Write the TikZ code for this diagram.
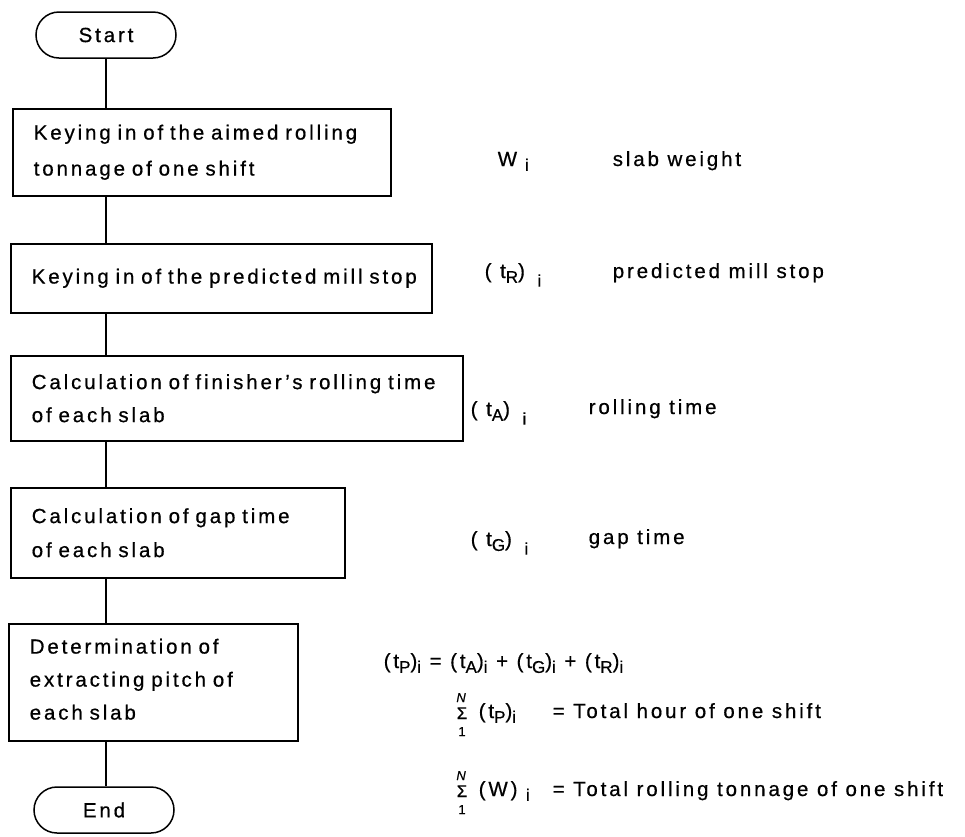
\documentclass[tikz,border=0pt]{standalone}
\usepackage{fontspec}
\setmainfont{Liberation Sans}[LetterSpace=14,FakeBold=0.6]
\usetikzlibrary{shapes.misc}
\newcommand{\dn}[1]{\raisebox{-0.45ex}{\fontsize{17}{17}\selectfont #1}}
\newcommand{\dnn}[1]{\raisebox{-0.8ex}{\fontsize{17}{17}\selectfont #1}}
\begin{document}
\begin{tikzpicture}[x=1pt,y=-1pt,line width=1.5pt,
  font=\fontsize{20.5}{36}\selectfont,
  procbox/.style={draw, rectangle, anchor=north west, align=left, inner xsep=21pt, inner ysep=0pt},
  term/.style={draw, rounded rectangle, minimum width=140pt, minimum height=46pt, inner sep=0pt},
  lbl/.style={anchor=base west, inner sep=0pt},
  limit/.style={anchor=base, inner sep=0pt, font=\fontsize{13}{13}\selectfont},
  sigma/.style={anchor=base, inner sep=0pt, font=\fontsize{17}{17}\selectfont}]
\useasboundingbox (0,0) rectangle (965,836);

\node[term] (start) at (106,35) {Start};
\node[procbox, text width=336pt, minimum height=87pt] (b1) at (12,108)
  {\mbox{Keying in of the aimed rolling}\\\mbox{tonnage of one shift}};
\node[procbox, text width=379pt, minimum height=69pt] (b2) at (10,243)
  {\mbox{Keying in of the predicted mill stop}};
\node[procbox, text width=410pt, minimum height=85pt, font=\fontsize{20.5}{33}\selectfont] (b3) at (10,355)
  {\mbox{Calculation of finisher's rolling time}\\\mbox{of each slab}};
\node[procbox, text width=292pt, minimum height=90pt, font=\fontsize{20.5}{34}\selectfont] (b4) at (10,487)
  {\mbox{Calculation of gap time}\\\mbox{of each slab}};
\node[procbox, text width=247pt, minimum height=117pt, font=\fontsize{20.5}{33}\selectfont] (b5) at (8,623)
  {\mbox{Determination of}\\\mbox{extracting pitch of}\\\mbox{each slab}\vspace{6pt}};
\node[term] (end) at (104,810) {End};

\draw (start.south) -- (start.south |- b1.north);
\draw (start.south |- b1.south) -- (start.south |- b2.north);
\draw (start.south |- b2.south) -- (start.south |- b3.north);
\draw (start.south |- b3.south) -- (start.south |- b4.north);
\draw (start.south |- b4.south) -- (start.south |- b5.north);
\draw (start.south |- b5.south) -- (start.south |- end.north);

\node[lbl] (wsym) at (497,166) {W\hspace{8pt}\dn{i}};
\node[lbl] (wtxt) at (612,166) {slab weight};
\node[lbl] (rsym) at (484,278) {( t\dn{R}) \hspace{4pt}\dnn{i}};
\node[lbl] (rtxt) at (612,278) {predicted mill stop};
\node[lbl] (asym) at (470,416) {( t\dn{A}) \hspace{4pt}\dnn{i}};
\node[lbl] (atxt) at (588,414) {rolling time};
\node[lbl] (gsym) at (470,546) {( t\dn{G}) \hspace{4pt}\dnn{i}};
\node[lbl] (gtxt) at (588,544) {gap time};

\node[lbl] (form) at (383,668) {(t\dn{P})\dn{i} = (t\dn{A})\dn{i} + (t\dn{G})\dn{i} + (t\dn{R})\dn{i}};

\node[limit] (n1) at (462,702) {\textit{N}};
\node[sigma] (sg1) at (462,719) {Σ};
\node[limit] (o1) at (462,736) {1};
\node[lbl] (s1) at (478,718) {(t\dn{P})\dn{i}};
\node[lbl] (s1t) at (552,718) {= Total hour of one shift};

\node[limit] (n2) at (462,780) {\textit{N}};
\node[sigma] (sg2) at (462,797) {Σ};
\node[limit] (o2) at (462,814) {1};
\node[lbl] (s2) at (478,796) {(W) \dn{i}};
\node[lbl] (s2t) at (552,796) {= Total rolling tonnage of one shift};
\end{tikzpicture}
\end{document}
